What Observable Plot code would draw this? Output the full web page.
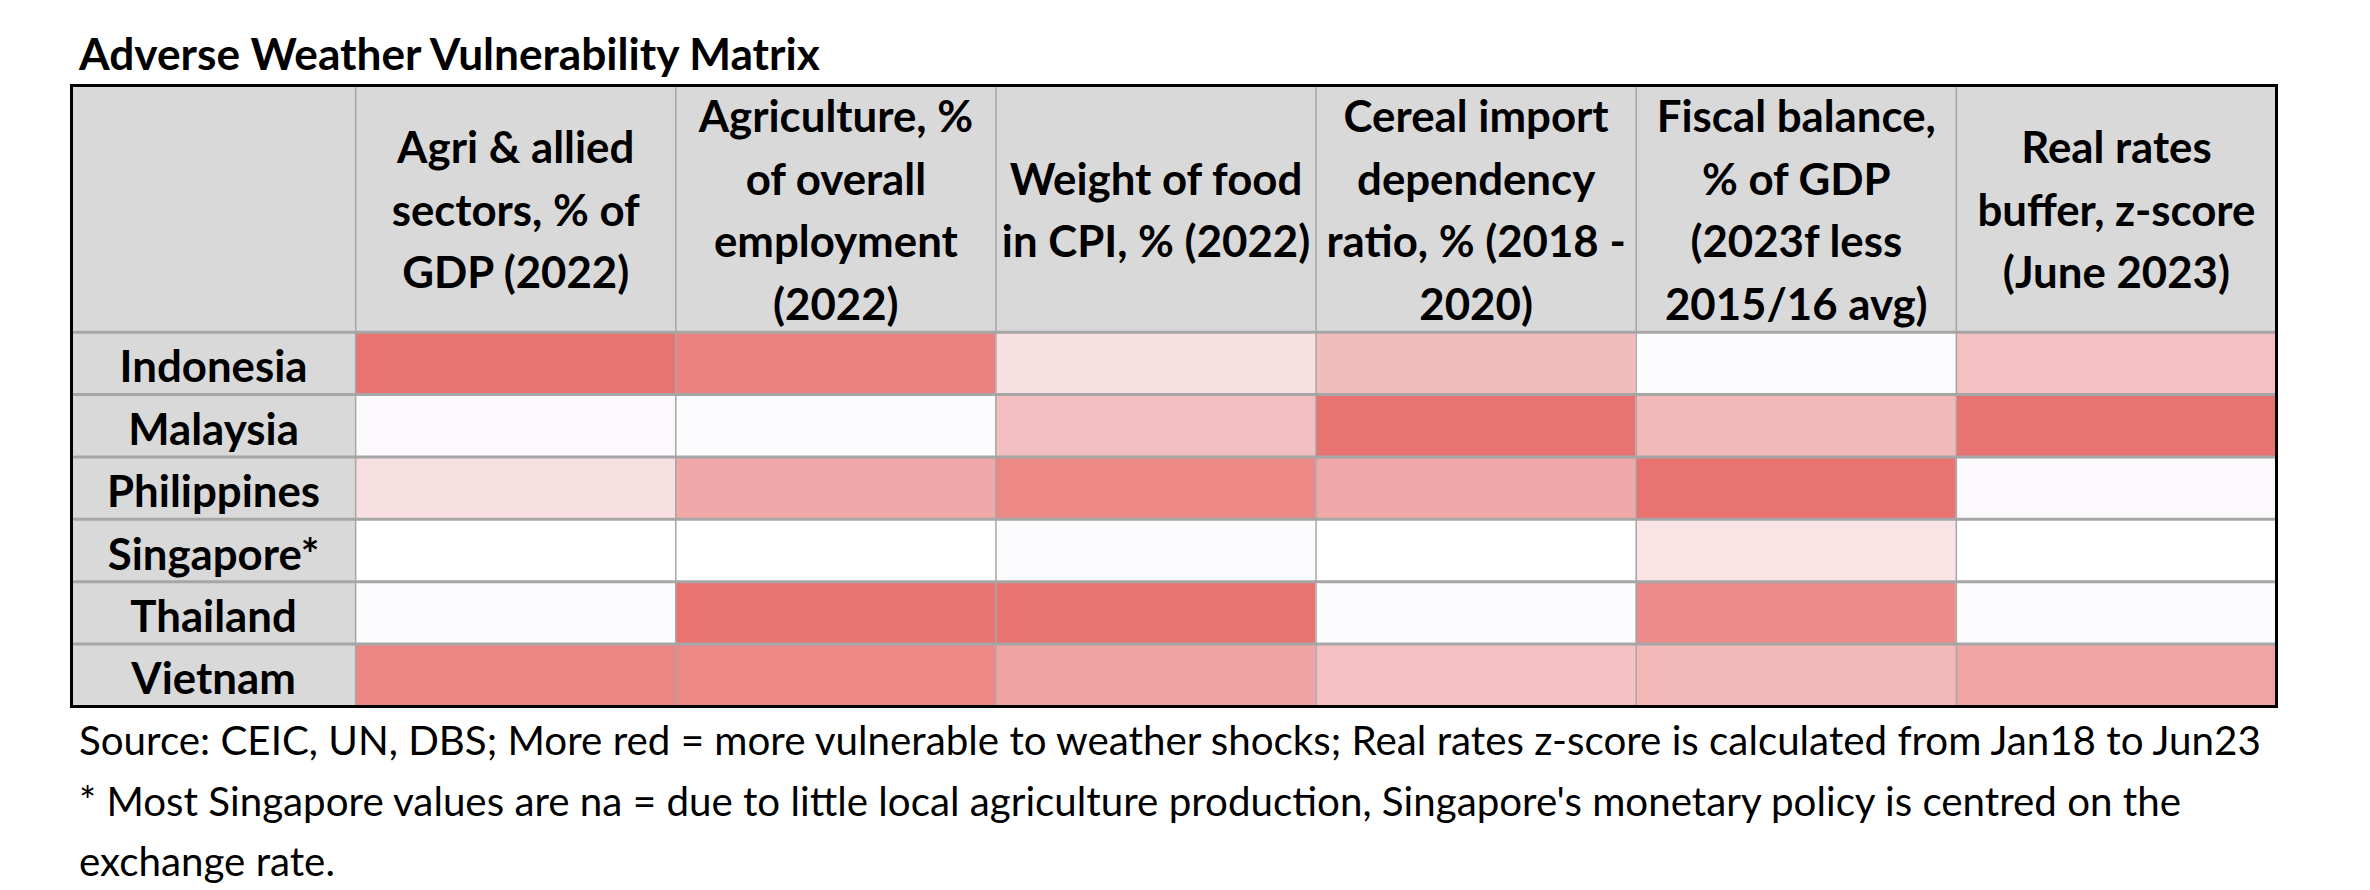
<!DOCTYPE html>
<html>
<head>
<meta charset="utf-8">
<script src="https://cdn.jsdelivr.net/npm/d3@7"></script>
<script src="https://cdn.jsdelivr.net/npm/@observablehq/plot@0.6"></script>
<style>
  html, body { margin: 0; padding: 0; background: #fff; }
  body { width: 2370px; height: 890px; overflow: hidden; position: relative; font-family: Lato, "Open Sans", sans-serif; color: #000; }
  #chart { position: absolute; left: 0; top: 0; }
  .txt { position: absolute; left: 79px; white-space: nowrap; line-height: 1; z-index: 2; }
  #title { font-weight: 700; }
</style>
</head>
<body>
<div id="chart"></div>
<div id="title" class="txt"></div>
<div id="foot1" class="txt"></div>
<div id="foot2" class="txt"></div>
<div id="foot3" class="txt"></div>
<script>
// ---------- data ----------
const titleText = "Adverse Weather Vulnerability Matrix";
const countries = ["Indonesia", "Malaysia", "Philippines", "Singapore*", "Thailand", "Vietnam"];
const indicators = [
  "Agri & allied\nsectors, % of\nGDP (2022)",
  "Agriculture, %\nof overall\nemployment\n(2022)",
  "Weight of food\nin CPI, % (2022)",
  "Cereal import\ndependency\nratio, % (2018 -\n2020)",
  "Fiscal balance,\n% of GDP\n(2023f less\n2015/16 avg)",
  "Real rates\nbuffer, z-score\n(June 2023)"
];
// shading score: 0 = least, 1 = most vulnerable; null = na (blank)
const agriGdp        = [1.00, 0.02, 0.21, null, 0.00, 0.86];
const agriEmployment = [0.89, 0.00, 0.61, null, 1.00, 0.85];
const foodCpiWeight  = [0.21, 0.45, 0.85, 0.00, 1.00, 0.65];
const cerealImport   = [0.47, 1.00, 0.61, null, 0.00, 0.44];
const fiscalBalance  = [0.00, 0.50, 1.00, 0.18, 0.82, 0.50];
const realRates      = [0.44, 1.00, 0.02, null, 0.00, 0.64];
const sourceNote = "Source: CEIC, UN, DBS; More red = more vulnerable to weather shocks; Real rates z-score is calculated from Jan18 to Jun23";
const footNote = [
  "* Most Singapore values are na = due to little local agriculture production, Singapore's monetary policy is centred on the",
  "exchange rate."
];

// ---------- layout ----------
const W = 2370, H = 890;
const LABEL_W = 0.8875;   // label column width, in data-column units
const HEADER_H = 3.955;   // header row height, in data-row units
const FONT = "Lato, 'Open Sans', sans-serif";
const ctx = document.createElement("canvas").getContext("2d");
function fit(text, weight, target) {
  ctx.font = `${weight} 100px Lato`;
  return 100 * target / ctx.measureText(text).width;
}
const titleSize = fit(titleText, 700, 745);
const cellSize = fit("Indonesia", 700, 188);
const footSize = fit(sourceNote, 400, 2187);

const series = [agriGdp, agriEmployment, foodCpiWeight, cerealImport, fiscalBalance, realRates];
const cells = [];
series.forEach((vals, j) => vals.forEach((v, i) => cells.push({col: j, row: i, score: v})));
const nCol = indicators.length, nRow = countries.length;

const chart = Plot.plot({
  width: W,
  height: H,
  marginLeft: 71,
  marginRight: W - 2276,
  marginTop: 85,
  marginBottom: H - 706,
  x: {domain: [-LABEL_W, nCol], axis: null},
  y: {domain: [nRow, -HEADER_H], axis: null},
  color: {type: "linear", domain: [0, 1], range: ["#FCFCFF", "#E97371"], interpolate: "rgb"},
  style: {fontFamily: FONT, background: "transparent", overflow: "visible"},
  marks: [
    // header background
    Plot.rect([titleText], {x1: -LABEL_W, x2: nCol, y1: -HEADER_H, y2: 0, fill: "#D9D9D9"}),
    // label column background
    Plot.rect(countries, {x1: -LABEL_W, x2: 0, y1: (d, i) => i, y2: (d, i) => i + 1, fill: "#D9D9D9"}),
    // heat cells
    Plot.rect(cells, {x1: "col", x2: d => d.col + 1, y1: "row", y2: d => d.row + 1, fill: "score"}),
    // grid lines
    Plot.ruleX(indicators, {x: (d, i) => i, y1: -HEADER_H, y2: nRow, stroke: "#A6A6A6", strokeWidth: 1.5}),
    Plot.ruleY(countries, {y: (d, i) => i, x1: -LABEL_W, x2: nCol, stroke: "#A6A6A6", strokeWidth: 3}),
    Plot.frame({stroke: "#000", strokeWidth: 3}),
    // header labels
    Plot.text(indicators, {
      x: (d, i) => i + 0.5, y: -HEADER_H / 2, text: d => d,
      fontSize: cellSize, fontWeight: "bold", lineHeight: 1.43, fill: "#000", dy: -3
    }),
    // row labels
    Plot.text(countries, {
      x: -LABEL_W / 2, y: (d, i) => i + 0.5, text: d => d,
      fontSize: cellSize, fontWeight: "bold", fill: "#000", dy: 5
    })
  ]
});
document.getElementById("chart").append(chart);

// ---------- title & notes ----------
function place(id, text, size, baseline) {
  const el = document.getElementById(id);
  el.textContent = text;
  el.style.fontSize = size + "px";
  el.style.top = (baseline - 0.887 * size) + "px";
}
place("title", titleText, titleSize, 70);
place("foot1", sourceNote, footSize, 756);
place("foot2", footNote[0], footSize, 817);
place("foot3", footNote[1], footSize, 877);
</script>
</body>
</html>
